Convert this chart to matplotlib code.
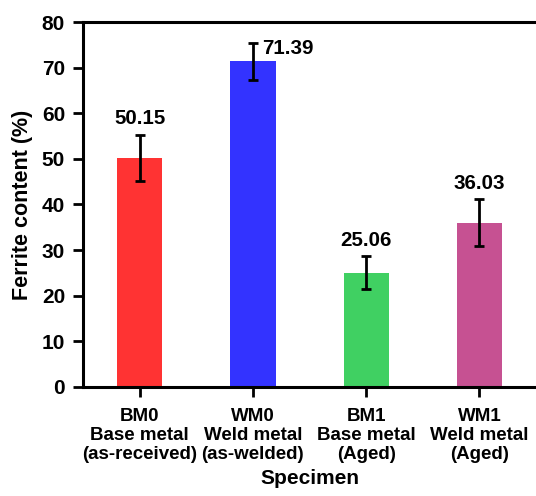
import matplotlib
matplotlib.use('Agg')
import matplotlib.pyplot as plt
import numpy as np

plt.rcParams['font.family'] = ['Liberation Sans', 'DejaVu Sans']

# Data
categories = ['BM0\nBase metal\n(as-received)', 'WM0\nWeld metal\n(as-welded)',
              'BM1\nBase metal\n(Aged)', 'WM1\nWeld metal\n(Aged)']
values = [50.15, 71.39, 25.06, 36.03]
errors = [5.1, 4.0, 3.6, 5.1]
colors = ['#FF3333', '#3333FF', '#40D062', '#C65192']

fig = plt.figure(figsize=(5.36, 4.96), dpi=100)
ax = fig.add_axes([0.155, 0.22, 0.845, 0.7356])

x = np.arange(len(values))
ax.bar(x, values, width=0.4, color=colors, zorder=2)
ax.errorbar(x, values, yerr=errors, fmt='none', ecolor='black',
            elinewidth=2, capsize=3.5, capthick=2, zorder=3)

# value labels
for i, (v, e) in enumerate(zip(values, errors)):
    if v + e + 5 > 80:
        # no room above the error bar, put it beside
        ax.text(i + 0.31, v + 2.8, f'{v:.2f}', ha='center', va='center',
                fontsize=14.8, fontweight='bold')
    else:
        ax.text(i, v + e + 3.5, f'{v:.2f}', ha='center', va='center',
                fontsize=14.8, fontweight='bold')

ax.set_xlim(-0.5, 3.5)
ax.set_ylim(0, 80)
ax.set_yticks(range(0, 81, 10))
ax.set_xticks(x)
ax.set_xticklabels(categories, fontsize=13.5, fontweight='bold', linespacing=1.18)
for lbl in ax.get_yticklabels():
    lbl.set_fontsize(15)
    lbl.set_fontweight('bold')

ax.set_ylabel('Ferrite content (%)', fontsize=15.5, fontweight='bold', labelpad=6)
ax.set_xlabel('Specimen', fontsize=15, fontweight='bold', labelpad=4)

for side in ['left', 'bottom', 'top']:
    ax.spines[side].set_linewidth(2.2)
ax.spines['right'].set_visible(False)
ax.tick_params(axis='both', width=2, length=7, direction='out')
ax.tick_params(axis='x', pad=8)
ax.tick_params(axis='y', pad=6)

fig.savefig('out.png', dpi=100)
